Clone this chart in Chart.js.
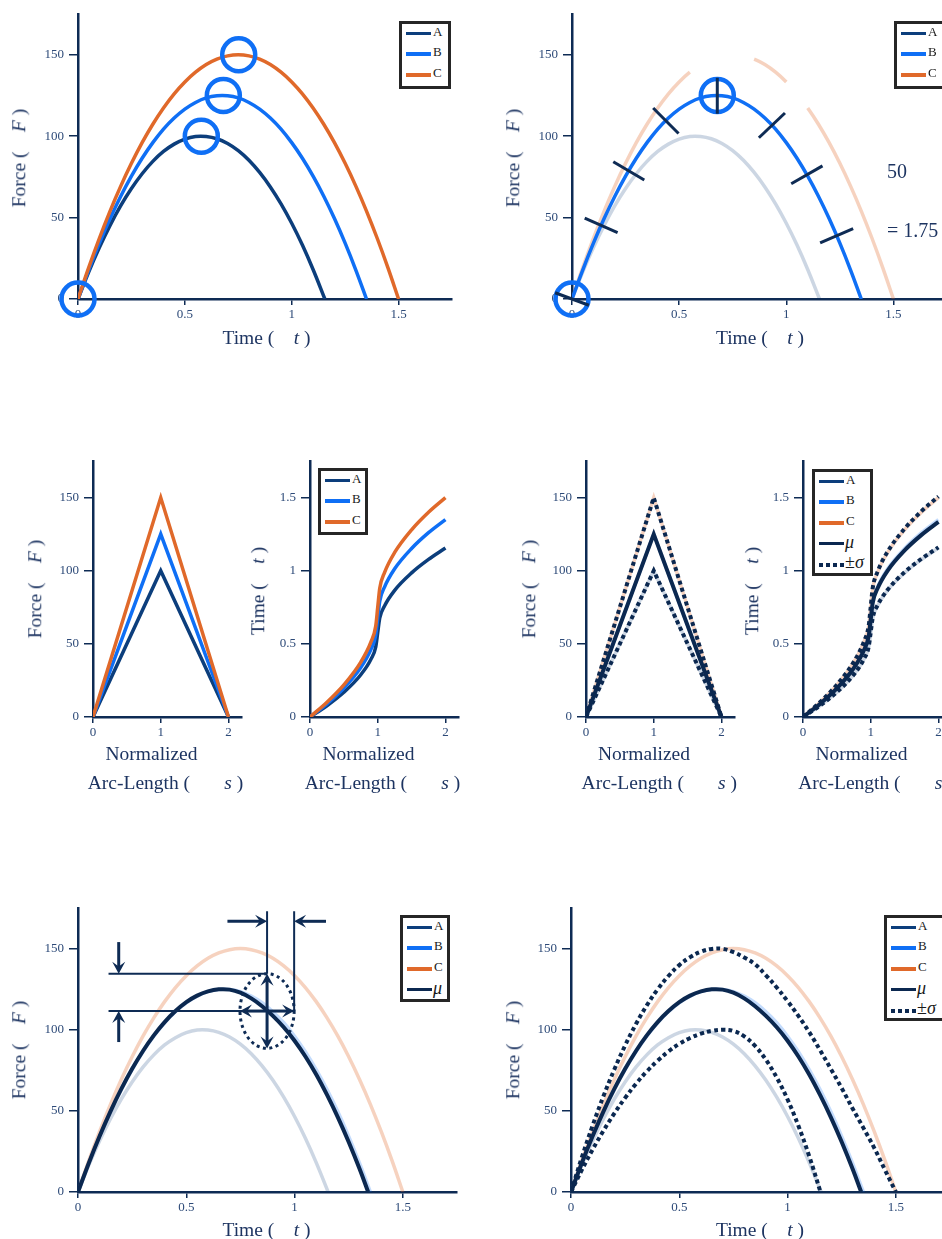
<!DOCTYPE html>
<html>
<head>
<meta charset="utf-8">
<title>Force and time panels</title>
<script src="https://cdn.jsdelivr.net/npm/chart.js@4.4.1/dist/chart.umd.min.js"></script>
<style>
  html, body { margin: 0; padding: 0; background: #fff; overflow: hidden; }
  body { position: relative; width: 942px; height: 1239px; font-family: "Liberation Serif", "DejaVu Serif", serif; color: #1d3461; }
  canvas { position: absolute; }
  .t { position: absolute; white-space: pre; font-size: 19.5px; line-height: 1; transform: translate(-50%, -50%); }
  .t.v { transform: translate(-50%, -50%) rotate(-90deg); }
  .t.l { transform: translate(0, -50%); font-size: 20px; }
  .lg { position: absolute; box-sizing: border-box; border: 3px solid #262626; background: #fff; }
  .lg .ln { position: absolute; left: 4px; width: 25px; height: 3.5px; }
  .lg .lab { position: absolute; left: 31px; font-size: 13px; line-height: 1; color: #1a1a1a; white-space: pre; }
  .lg .lab.big { font-size: 18px; left: 30px; }
</style>
</head>
<body>
<script>
// ---- force against time, one curve per trial (rows 1 and 3) ----
const tA = [0, 0.05, 0.1, 0.15, 0.2, 0.25, 0.3, 0.35, 0.4, 0.45, 0.5, 0.55, 0.6, 0.65, 0.7, 0.75, 0.8, 0.85, 0.9, 0.95, 1.0, 1.05, 1.1, 1.155];
const fA = [0, 16.6, 31.6, 45.2, 57.3, 67.8, 76.9, 84.5, 90.6, 95.1, 98.2, 99.8, 99.8, 98.4, 95.5, 91.1, 85.2, 77.7, 68.8, 58.4, 46.5, 33.1, 18.1, 0];
const tB = [0, 0.05, 0.1, 0.15, 0.2, 0.25, 0.3, 0.35, 0.4, 0.45, 0.5, 0.55, 0.6, 0.65, 0.7, 0.75, 0.8, 0.85, 0.9, 0.95, 1.0, 1.05, 1.1, 1.15, 1.2, 1.25, 1.3, 1.35];
const fB = [0, 17.8, 34.3, 49.4, 63.1, 75.4, 86.4, 96.0, 104.3, 111.1, 116.6, 120.7, 123.5, 124.8, 124.8, 123.5, 120.7, 116.6, 111.1, 104.3, 96.0, 86.4, 75.4, 63.1, 49.4, 34.3, 17.8, 0];
const tC = [0, 0.05, 0.1, 0.15, 0.2, 0.25, 0.3, 0.35, 0.4, 0.45, 0.5, 0.55, 0.6, 0.65, 0.7, 0.75, 0.8, 0.85, 0.9, 0.95, 1.0, 1.05, 1.1, 1.15, 1.2, 1.25, 1.3, 1.35, 1.4, 1.45, 1.5];
const fC = [0, 19.3, 37.3, 54.0, 69.3, 83.3, 96.0, 107.3, 117.3, 126.0, 133.3, 139.3, 144.0, 147.3, 149.3, 150, 149.3, 147.3, 144.0, 139.3, 133.3, 126.0, 117.3, 107.3, 96.0, 83.3, 69.3, 54.0, 37.3, 19.3, 0];

// mean and +/- sigma in the time domain (row 3)
const tMu = [0, 0.05, 0.1, 0.15, 0.2, 0.25, 0.3, 0.35, 0.4, 0.45, 0.5, 0.55, 0.6, 0.65, 0.7, 0.75, 0.8, 0.85, 0.9, 0.95, 1.0, 1.05, 1.1, 1.15, 1.2, 1.25, 1.3, 1.34];
const fMu = [0, 17.9, 34.5, 49.7, 63.5, 75.9, 86.9, 96.5, 104.7, 111.5, 117.0, 121.0, 123.6, 124.9, 124.7, 122.8, 119.3, 114.5, 108.5, 101.5, 93.2, 83.5, 72.4, 59.8, 46.0, 30.8, 14.3, 0];
const tHi = [0, 0.05, 0.1, 0.15, 0.2, 0.25, 0.3, 0.35, 0.4, 0.45, 0.5, 0.55, 0.6, 0.65, 0.7, 0.75, 0.8, 0.85, 0.9, 0.95, 1.0, 1.05, 1.1, 1.15, 1.2, 1.25, 1.3, 1.35, 1.4, 1.45, 1.5];
const fHi = [0, 21.3, 41.0, 59.1, 75.5, 90.3, 103.5, 115.0, 124.9, 133.1, 139.8, 144.7, 148.1, 149.8, 149.8, 147.8, 144.5, 140.3, 133.5, 126.0, 117.6, 108.5, 98.5, 87.4, 75.8, 64.0, 51.5, 39.5, 27.2, 13.5, 0];
const tLo = [0, 0.05, 0.1, 0.15, 0.2, 0.25, 0.3, 0.35, 0.4, 0.45, 0.5, 0.55, 0.6, 0.65, 0.7, 0.75, 0.8, 0.85, 0.9, 0.95, 1.0, 1.05, 1.1, 1.152];
const fLo = [0, 13.6, 26.2, 37.8, 48.4, 58.0, 66.7, 74.3, 80.9, 86.6, 91.3, 94.9, 97.6, 99.3, 100.0, 99.2, 95.9, 90.0, 81.5, 70.5, 57.0, 40.8, 22.1, 0];

// ---- against normalized arc-length (row 2) ----
const sTri = [0, 1, 2];
const fTriA = [0, 100, 0];
const fTriB = [0, 125, 0];
const fTriC = [0, 150, 0];
const fTriMu = [0, 125, 0];
const fTriHi = [0, 150, 0];
const fTriLo = [0, 100, 0];
const sArc = [0, 0.25, 0.5, 0.75, 0.9, 0.97, 1, 1.03, 1.1, 1.25, 1.5, 1.75, 2];
const tArcA = [0, 0.077, 0.169, 0.289, 0.395, 0.477, 0.577, 0.677, 0.759, 0.866, 0.985, 1.077, 1.155];
const tArcB = [0, 0.090, 0.198, 0.338, 0.462, 0.558, 0.675, 0.792, 0.888, 1.013, 1.152, 1.260, 1.35];
const tArcC = [0, 0.101, 0.220, 0.375, 0.513, 0.620, 0.75, 0.880, 0.987, 1.125, 1.280, 1.400, 1.5];
const tArcMu = [0, 0.089, 0.195, 0.334, 0.456, 0.552, 0.667, 0.782, 0.878, 1.001, 1.139, 1.245, 1.334];
const tArcHi = [0, 0.101, 0.221, 0.377, 0.516, 0.624, 0.754, 0.884, 0.992, 1.131, 1.287, 1.407, 1.508];
const tArcLo = [0, 0.078, 0.170, 0.290, 0.397, 0.480, 0.580, 0.680, 0.763, 0.870, 0.990, 1.082, 1.160];

// ---- markers ----
const circT = [0, 0.577, 0.68, 0.752];
const circF = [0, 100, 125, 150];
const circT2 = [0, 0.678];
const circF2 = [0, 125];
const normT = [0, 0.136, 0.265, 0.438, 0.678, 0.933, 1.096, 1.235];
const cGaps = [[0.55, 0.85], [1.0, 1.1]];
const spotT = 0.873, spotF = 111.5, sdT = 0.125, sdF = 23;
const guideT0 = 0.141, guideTopF = 173, arrowRowF = 166.8;
const sideArrowT = 0.188, sideTopF = 154, sideLowF = 92.4;
const leftArrowT = 0.69, rightArrowT = 1.145;

// ---- style ----
const NAVY = '#0e2b54';
const TXT = '#2d4a78';
const colA = '#0c3e7c', colB = '#0f6ff5', colC = '#e0692a', colMu = '#0b2850';
const fadeA = 'rgba(12,62,124,0.21)', fadeB = 'rgba(15,111,245,0.25)', fadeC = 'rgba(224,105,42,0.3)';
const tickFont = { family: 'Liberation Serif', size: 13 };
const YW = 60, XH = 32, PT = 22, PR = 16;

const pts = (xs, ys) => xs.map((x, i) => ({ x, y: ys[i] }));

function interp(xs, ys, x) {
  if (x <= xs[0]) return ys[0];
  for (let i = 1; i < xs.length; i++) {
    if (x <= xs[i]) return ys[i - 1] + (ys[i] - ys[i - 1]) * (x - xs[i - 1]) / (xs[i] - xs[i - 1]);
  }
  return ys[ys.length - 1];
}

// smooth bezier for the force/time arcs
function line(xs, ys, color, width, extra) {
  return Object.assign({
    data: pts(xs, ys), borderColor: color, borderWidth: width, pointRadius: 0, pointHoverRadius: 0,
    fill: false, tension: 0.4
  }, extra || {});
}
const dotted = { borderDash: [4, 3.2], borderCapStyle: 'butt' };
const straight = { tension: 0 };
const mono = { cubicInterpolationMode: 'monotone' };

function rings(xs, ys) {
  return {
    data: pts(xs, ys), showLine: false, pointRadius: 16.5, pointHoverRadius: 16.5, pointBorderWidth: 4.5,
    pointBorderColor: colB, pointBackgroundColor: 'rgba(0,0,0,0)', clip: false
  };
}

function makePanel(box, xMax, xStep, yMax, yStep, datasets, plugins) {
  const cv = document.createElement('canvas');
  const w = Math.round(YW + box.w + PR), h = Math.round(PT + box.h + XH);
  cv.width = w; cv.height = h;
  cv.style.width = w + 'px'; cv.style.height = h + 'px';
  cv.style.left = (box.x - YW) + 'px'; cv.style.top = (box.y - PT) + 'px';
  document.body.appendChild(cv);
  // first listed is drawn first (bottom)
  datasets.forEach((d, i) => { d.order = datasets.length - i; });
  const axis = (max, step, fit, tl, pad) => ({
    type: 'linear', min: 0, max: max, afterFit: fit,
    ticks: { stepSize: step, includeBounds: false, autoSkip: false, maxRotation: 0, color: TXT, font: tickFont, padding: pad, callback: v => String(v) },
    grid: { drawOnChartArea: false, drawTicks: true, tickLength: tl, color: NAVY, lineWidth: 1.5 },
    border: { color: NAVY, width: 2.5 }
  });
  return new Chart(cv, {
    type: 'line',
    data: { datasets },
    options: {
      responsive: false, animation: false, devicePixelRatio: 1,
      layout: { padding: { top: PT, right: PR, left: 0, bottom: 0 } },
      plugins: { legend: { display: false }, tooltip: { enabled: false } },
      scales: {
        x: axis(xMax, xStep, s => { s.height = XH; }, 6, 2),
        y: axis(yMax, yStep, s => { s.width = YW; }, 9, 5)
      }
    },
    plugins: plugins || []
  });
}

// short strokes normal to curve B (top right)
const normalsPlugin = {
  id: 'normals',
  afterDatasetsDraw(chart) {
    const { ctx, scales: { x, y } } = chart;
    const P = t => [x.getPixelForValue(t), y.getPixelForValue(interp(tB, fB, t))];
    ctx.save();
    ctx.strokeStyle = NAVY; ctx.lineWidth = 3;
    normT.forEach(t => {
      const p = P(t), a = P(Math.max(t - 0.02, 0)), b = P(t + 0.02);
      let dx = b[0] - a[0], dy = b[1] - a[1];
      const n = Math.hypot(dx, dy); dx /= n; dy /= n;
      ctx.beginPath();
      ctx.moveTo(p[0] + dy * 18, p[1] - dx * 18);
      ctx.lineTo(p[0] - dy * 18, p[1] + dx * 18);
      ctx.stroke();
    });
    ctx.restore();
  }
};

function arrow(ctx, x0, y0, x1, y1) {
  const a = Math.atan2(y1 - y0, x1 - x0), ux = Math.cos(a), uy = Math.sin(a), L = 12, W = 6.5;
  ctx.beginPath(); ctx.moveTo(x0, y0); ctx.lineTo(x1 - ux * 5, y1 - uy * 5); ctx.stroke();
  ctx.beginPath();
  ctx.moveTo(x1, y1);
  ctx.lineTo(x1 - ux * L - uy * W, y1 - uy * L + ux * W);
  ctx.lineTo(x1 - ux * L * 0.6, y1 - uy * L * 0.6);
  ctx.lineTo(x1 - ux * L + uy * W, y1 - uy * L - ux * W);
  ctx.closePath(); ctx.fill();
}

// spread marker on the mean curve (bottom left)
const spreadPlugin = {
  id: 'spread',
  afterDatasetsDraw(chart) {
    const { ctx, scales: { x, y } } = chart;
    const X = v => x.getPixelForValue(v), Y = v => y.getPixelForValue(v);
    const seg = (a, b, c, d) => { ctx.beginPath(); ctx.moveTo(a, b); ctx.lineTo(c, d); ctx.stroke(); };
    ctx.save();
    ctx.strokeStyle = NAVY; ctx.fillStyle = NAVY;
    ctx.lineWidth = 2;
    seg(X(guideT0), Y(spotF + sdF), X(spotT), Y(spotF + sdF));
    seg(X(guideT0), Y(spotF), X(spotT + sdT), Y(spotF));
    seg(X(spotT), Y(spotF + sdF), X(spotT), Y(guideTopF));
    seg(X(spotT + sdT), Y(spotF), X(spotT + sdT), Y(guideTopF));
    ctx.lineWidth = 3;
    arrow(ctx, X(sideArrowT), Y(sideTopF), X(sideArrowT), Y(spotF + sdF));
    arrow(ctx, X(sideArrowT), Y(sideLowF), X(sideArrowT), Y(spotF));
    arrow(ctx, X(leftArrowT), Y(arrowRowF), X(spotT), Y(arrowRowF));
    arrow(ctx, X(rightArrowT), Y(arrowRowF), X(spotT + sdT), Y(arrowRowF));
    arrow(ctx, X(spotT), Y(spotF), X(spotT), Y(spotF + sdF));
    arrow(ctx, X(spotT), Y(spotF), X(spotT), Y(spotF - sdF));
    arrow(ctx, X(spotT), Y(spotF), X(spotT - sdT), Y(spotF));
    arrow(ctx, X(spotT), Y(spotF), X(spotT + sdT), Y(spotF));
    ctx.setLineDash([3, 3.5]);
    ctx.beginPath();
    ctx.ellipse(X(spotT), Y(spotF), Math.abs(X(spotT + sdT) - X(spotT)), Math.abs(Y(spotF + sdF) - Y(spotF)), 0, 0, Math.PI * 2);
    ctx.stroke();
    ctx.restore();
  }
};

// ---- panels ----
const P1 = { x: 78, y: 14, w: 379, h: 285 };
const P2 = { x: 572, y: 14, w: 380, h: 285 };
const P3a = { x: 93, y: 461, w: 149, h: 256 };
const P3b = { x: 310, y: 461, w: 149, h: 256 };
const P4a = { x: 586, y: 461, w: 149, h: 256 };
const P4b = { x: 803, y: 461, w: 149, h: 256 };
const P5 = { x: 78, y: 908, w: 379, h: 284 };
const P6 = { x: 571, y: 908, w: 379, h: 284 };

makePanel(P1, 1.75, 0.5, 175, 50, [
  line(tA, fA, colA, 3.5),
  line(tB, fB, colB, 3.5),
  line(tC, fC, colC, 3.5),
  rings(circT, circF)
]);

makePanel(P2, 1.75, 0.5, 175, 50, [
  line(tA, fA, fadeA, 3.5),
  line(tC, fC, fadeC, 3.5, {
    segment: { borderColor: c => cGaps.some(g => c.p0.parsed.x >= g[0] - 1e-9 && c.p1.parsed.x <= g[1] + 1e-9) ? 'rgba(0,0,0,0)' : fadeC }
  }),
  line(tB, fB, colB, 3.5),
  rings(circT2, circF2)
], [normalsPlugin]);

makePanel(P3a, 2.2, 1, 175, 50, [
  line(sTri, fTriA, colA, 3.5, straight),
  line(sTri, fTriB, colB, 3.5, straight),
  line(sTri, fTriC, colC, 3.5, straight)
]);

makePanel(P3b, 2.2, 1, 1.75, 0.5, [
  line(sArc, tArcA, colA, 3.5, mono),
  line(sArc, tArcB, colB, 3.5, mono),
  line(sArc, tArcC, colC, 3.5, mono)
]);

makePanel(P4a, 2.2, 1, 175, 50, [
  line(sTri, fTriA, fadeA, 3.5, straight),
  line(sTri, fTriB, fadeB, 3.5, straight),
  line(sTri, fTriC, fadeC, 3.5, straight),
  line(sTri, fTriMu, colMu, 4, straight),
  line(sTri, fTriHi, colMu, 4, Object.assign({}, straight, dotted)),
  line(sTri, fTriLo, colMu, 4, Object.assign({}, straight, dotted))
]);

makePanel(P4b, 2.2, 1, 1.75, 0.5, [
  line(sArc, tArcA, fadeA, 3.5, mono),
  line(sArc, tArcB, fadeB, 3.5, mono),
  line(sArc, tArcC, fadeC, 3.5, mono),
  line(sArc, tArcMu, colMu, 4, mono),
  line(sArc, tArcHi, colMu, 4, Object.assign({}, mono, dotted)),
  line(sArc, tArcLo, colMu, 4, Object.assign({}, mono, dotted))
]);

makePanel(P5, 1.75, 0.5, 175, 50, [
  line(tA, fA, fadeA, 3.5),
  line(tB, fB, fadeB, 3.5),
  line(tC, fC, fadeC, 3.5),
  line(tMu, fMu, colMu, 4)
], [spreadPlugin]);

makePanel(P6, 1.75, 0.5, 175, 50, [
  line(tA, fA, fadeA, 3.5),
  line(tB, fB, fadeB, 3.5),
  line(tC, fC, fadeC, 3.5),
  line(tMu, fMu, colMu, 4),
  line(tHi, fHi, colMu, 4, dotted),
  line(tLo, fLo, colMu, 4, dotted)
]);

// ---- text ----
function txt(x, y, html, cls) {
  const d = document.createElement('div');
  d.className = 't' + (cls ? ' ' + cls : '');
  d.style.left = x + 'px'; d.style.top = y + 'px';
  d.innerHTML = html;
  document.body.appendChild(d);
}
const timeLbl = 'Time (    <i>t</i> )';
const forceLbl = 'Force (    <i>F</i> )';
const arcLbl = 'Arc-Length (       <i>s</i> )';

txt(266.5, 338, timeLbl); txt(19, 158, forceLbl, 'v');
txt(760, 338, timeLbl); txt(512.7, 158, forceLbl, 'v');
txt(887, 170.7, '50', 'l'); txt(887, 230, '= 1.75', 'l');

txt(35, 589, forceLbl, 'v'); txt(151.5, 754, 'Normalized'); txt(165.5, 783, arcLbl);
txt(258, 591, timeLbl, 'v'); txt(368.5, 754, 'Normalized'); txt(382.5, 783, arcLbl);
txt(529, 589, forceLbl, 'v'); txt(644, 754, 'Normalized'); txt(659.3, 783, arcLbl);
txt(752, 591, timeLbl, 'v'); txt(861.5, 754, 'Normalized'); txt(876, 783, arcLbl);

txt(266.5, 1230, timeLbl); txt(19, 1050, forceLbl, 'v');
txt(760, 1230, timeLbl); txt(512.7, 1050, forceLbl, 'v');

// ---- legends ----
const keyABC = [['A', colA], ['B', colB], ['C', colC]];
const keyMu = keyABC.concat([['<i>μ</i>', colMu, false, true]]);
const keyAll = keyMu.concat([['±<i>σ</i>', colMu, true, true]]);

function legend(x, y, w, h, items) {
  const box = document.createElement('div');
  box.className = 'lg';
  Object.assign(box.style, { left: x + 'px', top: y + 'px', width: w + 'px', height: h + 'px' });
  items.forEach((it, i) => {
    const cy = 9.5 + i * 20.7;
    const ln = document.createElement('div');
    ln.className = 'ln';
    ln.style.top = (cy - 1.75) + 'px';
    ln.style.background = it[2]
      ? 'repeating-linear-gradient(90deg, ' + it[1] + ' 0 4px, transparent 4px 7px)'
      : it[1];
    if (it[2]) ln.style.height = '4px';
    const lb = document.createElement('div');
    lb.className = 'lab' + (it[3] ? ' big' : '');
    lb.style.top = (cy - (it[3] ? 11 : 9)) + 'px';
    lb.innerHTML = it[0];
    box.appendChild(ln); box.appendChild(lb);
  });
  document.body.appendChild(box);
}
legend(399, 21, 52, 68, keyABC);
legend(894, 21, 60, 68, keyABC);
legend(318, 468, 50, 67, keyABC);
legend(812, 469, 61, 107, keyAll);
legend(400, 915, 50, 87, keyMu);
legend(884, 915, 70, 106, keyAll);
</script>
</body>
</html>
